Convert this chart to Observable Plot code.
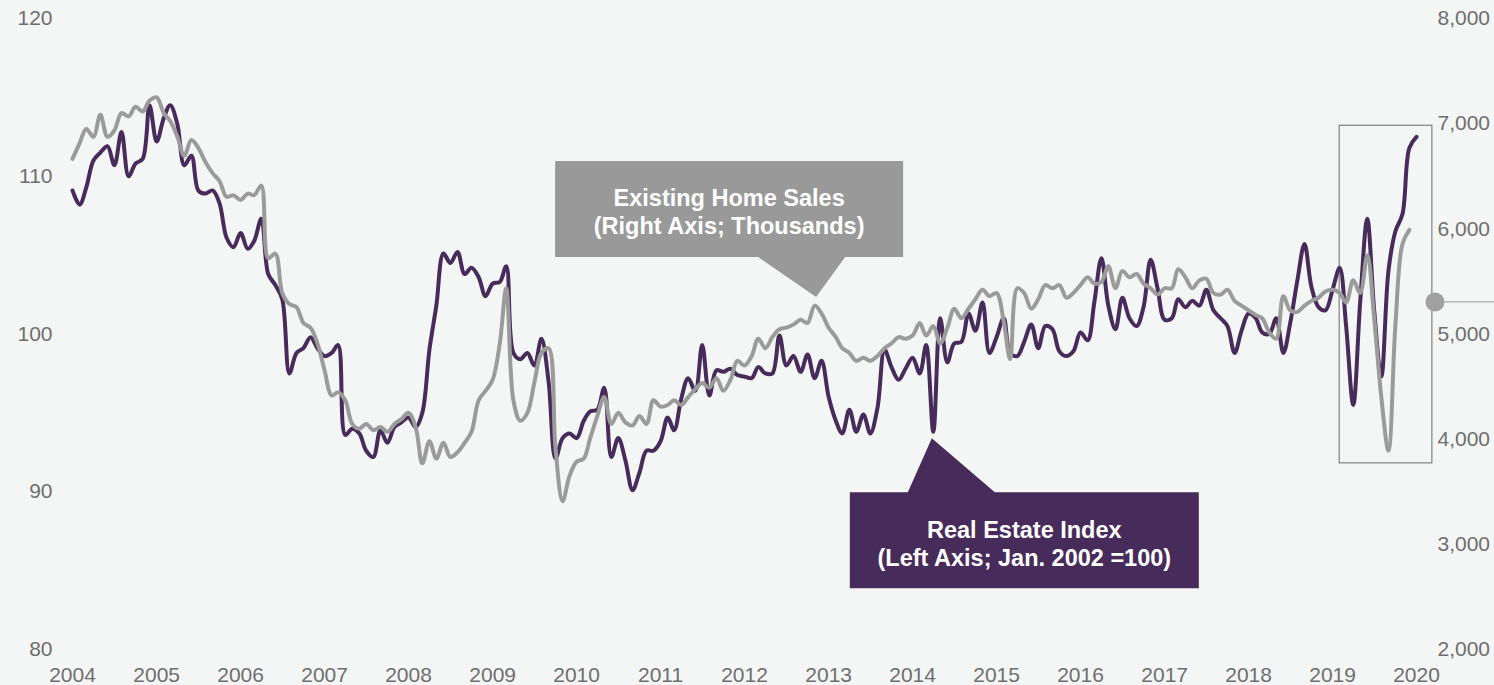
<!DOCTYPE html>
<html>
<head>
<meta charset="utf-8">
<script src="https://cdn.jsdelivr.net/npm/d3@7"></script>
<script src="https://cdn.jsdelivr.net/npm/@observablehq/plot@0.6"></script>
<style>
  html, body { margin: 0; padding: 0; background: #f4f6f5; }
  svg { display: block; }
</style>
</head>
<body>
<div id="chart"></div>
<script>
// ---- data (monthly, starting Jan 2004) ----
const startYear = 2004;
const endYear = 2020;

// Real Estate Index (Left Axis; Jan. 2002 = 100), Jan 2004 .. Jan 2020
const realEstateIndex = [
  109.1,108.2,109.3,111.0,111.5,111.9,110.7,112.8,110.0,110.8,111.1,114.5,
  112.2,113.7,114.5,113.3,110.7,111.3,109.1,108.9,109.1,108.3,106.1,105.5,
  106.4,105.4,105.9,107.3,103.8,103.1,102.2,97.5,98.8,99.1,99.8,99.1,
  98.6,98.8,99.3,93.6,94.0,93.7,92.6,92.2,93.9,93.1,94.1,94.4,
  94.7,94.1,95.0,99.0,101.8,105.1,104.5,105.2,103.8,104.2,103.6,102.4,
  103.2,103.3,104.3,98.8,98.4,98.8,98.0,99.7,97.0,92.1,93.4,93.7,
  93.4,94.5,95.1,95.2,96.6,92.2,93.4,92.0,90.1,91.2,92.6,92.6,
  93.2,94.7,93.9,95.9,97.2,96.4,99.3,96.1,97.7,97.6,97.8,97.4,
  97.3,97.2,97.9,97.5,97.5,99.9,98.0,98.6,97.6,98.7,97.2,98.3,
  96.0,94.5,93.7,95.2,93.8,94.9,93.7,95.3,99.0,97.9,97.1,97.8,
  98.5,97.5,99.3,93.8,101.0,98.2,99.4,99.5,101.3,100.2,102.0,98.8,
  99.8,101.0,98.8,98.6,99.5,100.6,99.1,100.5,100.3,98.9,98.6,98.9,
  100.1,99.6,102.0,104.8,101.8,100.3,102.3,101.0,100.5,101.7,104.7,102.9,
  100.9,101.0,102.2,101.7,102.1,101.8,102.8,101.5,101.0,100.5,98.8,100.2,
  101.3,101.0,100.1,100.0,101.0,98.8,100.7,103.4,105.7,103.0,101.7,101.5,
  102.8,104.2,100.5,95.5,102.0,107.3,101.5,97.3,104.0,106.5,107.6,111.8,
  112.5
];

// Existing Home Sales (Right Axis; Thousands), Jan 2004 .. Dec 2019
const existingHomeSales = [
  6665,6815,6950,6875,7085,6875,6935,7100,7070,7160,7115,7220,
  7250,7100,7025,6875,6695,6845,6770,6635,6530,6455,6305,6320,
  6275,6335,6320,6410,5720,5765,5390,5285,5255,5105,5060,4910,
  4655,4415,4445,4370,4145,4100,4145,4085,4115,4070,4145,4190,
  4250,4115,3770,3980,3815,3965,3830,3875,3965,4070,4370,4460,
  4565,4910,5435,4370,4175,4250,4535,4820,4865,3920,3410,3650,
  3785,3815,4010,4220,4400,4145,4250,4160,4130,4220,4145,4370,
  4310,4325,4370,4325,4400,4475,4535,4490,4580,4460,4565,4745,
  4700,4790,4955,4865,4970,5045,5060,5090,5135,5105,5270,5195,
  5060,4970,4865,4820,4745,4775,4745,4790,4865,4910,4970,4955,
  4985,5105,4985,5075,4910,5060,5240,5150,5240,5330,5420,5360,
  5390,5120,4760,5435,5390,5240,5330,5465,5435,5465,5345,5390,
  5465,5540,5480,5495,5645,5435,5600,5540,5570,5480,5435,5375,
  5435,5435,5615,5540,5435,5510,5525,5390,5375,5420,5315,5270,
  5225,5180,5150,5015,4955,5360,5225,5210,5270,5315,5345,5405,
  5420,5390,5300,5510,5390,5750,5150,4400,3890,5075,5855,5990
];

const leftTicks = [80, 90, 100, 110, 120];
const rightTicks = [2000, 3000, 4000, 5000, 6000, 7000, 8000];
const yearTicks = d3.range(startYear, endYear + 1);

// annotation anchors (indices into the monthly series) and texts
const salesCallout = { index: 106, lines: ["Existing Home Sales", "(Right Axis; Thousands)"] };
const indexCallout = { index: 123, lines: ["Real Estate Index", "(Left Axis; Jan. 2002 =100)"] };
const highlightBox = { from: new Date(Date.UTC(2019, 1, 1)), to: new Date(Date.UTC(2020, 2, 10)), low: 91.8, high: 113.2 };
const rightMarkerValue = 5300;

// ---- helpers ----
const toLeft = s => (s + 10000) / 150;    // right axis (2000..8000) -> left axis (80..120)
const toRight = v => Math.round(v * 150 - 10000);
const monthDate = i => new Date(Date.UTC(startYear, i, 1));

const indexData = realEstateIndex.map((v, i) => ({ date: monthDate(i), value: v }));
const salesData = existingHomeSales.map((s, i) => ({ date: monthDate(i), value: toLeft(s) }));

const purple = "#472b5a";
const gray = "#9b9b9b";
const tickColor = "#6e6e6e";

const plot = Plot.plot({
  width: 1494,
  height: 685,
  marginLeft: 72,
  marginRight: 78,
  marginTop: 18,
  marginBottom: 36,
  style: { background: "#f4f6f5", fontFamily: "'Liberation Sans', Arial, sans-serif", fontSize: "21px", color: tickColor, overflow: "visible" },
  x: { type: "utc", domain: [new Date(Date.UTC(startYear, 0, 1)), new Date(Date.UTC(endYear, 0, 1))] },
  y: { domain: [80, 120] },
  marks: [
    Plot.axisY({ ticks: leftTicks, tickSize: 0, tickPadding: 20, label: null, fill: tickColor }),
    Plot.axisY({ anchor: "right", ticks: rightTicks.map(toLeft), tickFormat: v => d3.format(",")(toRight(v)), tickSize: 0, tickPadding: 21, label: null, fill: tickColor }),
    Plot.axisX({ ticks: yearTicks.map(y => new Date(Date.UTC(y, 0, 1))), tickFormat: d3.utcFormat("%Y"), tickSize: 0, tickPadding: 18, label: null, fill: tickColor }),
    Plot.rect([highlightBox], { x1: "from", x2: "to", y1: "low", y2: "high", fill: "none", stroke: "#808080", strokeWidth: 1.2 }),
    Plot.line(indexData, { x: "date", y: "value", stroke: purple, strokeWidth: 4, curve: "catmull-rom" }),
    Plot.line(salesData, { x: "date", y: "value", stroke: gray, strokeWidth: 4, curve: "catmull-rom" })
  ]
});

document.getElementById("chart").appendChild(plot);

// ---- callouts and right marker, positioned from the plot's scales ----
const sx = plot.scale("x"), sy = plot.scale("y");
const svg = d3.select(plot);
const font = "'Liberation Sans', Arial, sans-serif";

function addText(g, x, y, lines) {
  lines.forEach((t, k) => {
    g.append("text")
      .attr("x", x).attr("y", y + k * 28)
      .attr("text-anchor", "middle").attr("dy", "0.36em")
      .attr("fill", "#ffffff").attr("font-weight", "bold")
      .attr("font-family", font).attr("font-size", "23.5px")
      .text(t);
  });
}

// gray callout (above, pointing down to sales peak)
{
  const i = salesCallout.index;
  const tx = sx.apply(monthDate(i)) + 2;
  const ty = sy.apply(toLeft(existingHomeSales[i])) - 8;
  const L = tx - 261, R = tx + 87, T = ty - 136, B = ty - 40;
  const g = svg.append("g");
  g.append("path")
    .attr("d", `M${L},${T}H${R}V${B}H${tx + 29}L${tx},${ty}L${tx - 58},${B}H${L}Z`)
    .attr("fill", "#999999");
  addText(g, (L + R) / 2, ty - 100, salesCallout.lines);
}

// purple callout (below, pointing up to index dip)
{
  const i = indexCallout.index;
  const tx = sx.apply(monthDate(i)) - 1;
  const ty = sy.apply(realEstateIndex[i]) + 7;
  const L = tx - 82, R = tx + 267, T = ty + 54, B = ty + 150;
  const g = svg.append("g");
  g.append("path")
    .attr("d", `M${L},${T}H${tx - 24}L${tx},${ty}L${tx + 63},${T}H${R}V${B}H${L}Z`)
    .attr("fill", purple);
  addText(g, (L + R) / 2, ty + 91, indexCallout.lines);
}

// right-side marker
{
  const y = sy.apply(toLeft(rightMarkerValue));
  const x0 = sx.range[1] + 19;
  svg.append("line").attr("x1", x0).attr("x2", 1494).attr("y1", y).attr("y2", y)
    .attr("stroke", "#a8a8a8").attr("stroke-width", 1.3);
  svg.append("circle").attr("cx", x0).attr("cy", y).attr("r", 9.5).attr("fill", "#a0a0a0");
}
</script>
</body>
</html>
